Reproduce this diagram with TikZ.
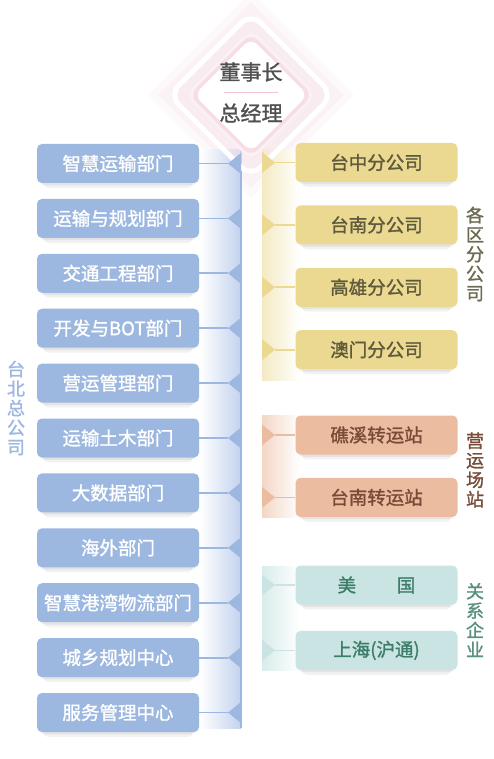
\documentclass[tikz,border=0pt]{standalone}
\usepackage{fontspec}
\setmainfont{Noto Sans CJK SC}[AutoFakeBold=1.3]
\usetikzlibrary{positioning,shapes.geometric,shadows}
\definecolor{deptblue}{HTML}{9DB8E0}
\definecolor{barblue}{HTML}{C3D2EE}
\definecolor{gold}{HTML}{EBD991}
\definecolor{goldtext}{HTML}{5F5A3C}
\definecolor{peach}{HTML}{ECBCA0}
\definecolor{peachtext}{HTML}{784B37}
\definecolor{mint}{HTML}{C9E4E2}
\definecolor{minttext}{HTML}{3C7D69}
\definecolor{dpink}{HTML}{EBB4C8}
\definecolor{headgray}{HTML}{505050}
\tikzset{
  box/.style={rounded corners=5pt, minimum width=162pt, minimum height=39pt, inner sep=0pt,
    font=\fontsize{18.5}{18.5}\selectfont\bfseries,
    drop shadow={shadow xshift=0pt, shadow yshift=-3pt, shadow scale=0.97, opacity=0.06, fill=black},
    drop shadow={shadow xshift=0pt, shadow yshift=-7pt, shadow scale=0.92, opacity=0.05, fill=black}},
  dept/.style={box, fill=deptblue, text=white},
  branch/.style={box, fill=gold, text=goldtext},
  depot/.style={box, fill=peach, text=peachtext},
  affil/.style={box, fill=mint, text=minttext},
  group/.style={font=\fontsize{18}{19.5}\selectfont\bfseries, align=center, inner sep=0pt},
  head/.style={font=\fontsize{21}{21}\selectfont\bfseries, text=headgray, inner sep=0pt},
  rhomb/.style={diamond, aspect=1, inner sep=0pt},
  blink/.style={draw=deptblue, line width=1.8pt},
  glink/.style={draw=gold, line width=1.8pt},
  plink/.style={draw=peach, line width=1.8pt},
  mlink/.style={draw=mint, line width=1.8pt}
}
\begin{document}
\begin{tikzpicture}[x=1pt, y=-1pt]
  \useasboundingbox[fill=white] (0,0) rectangle (493,759);
  % soft glow round the top
  \node[rhomb, minimum size=206pt, fill=dpink, fill opacity=0.07] (glow) at (251,95) {};
  \node[rhomb, minimum size=186pt, fill=dpink, fill opacity=0.09] (glow2) at (251,95) {};
  % bars
  \shade[left color=white, right color=barblue] (200,150) rectangle (241,728);
  \draw[deptblue, line width=1.5pt] (241,150) -- (241,728);
  \shade[left color=gold!55, right color=white] (262,150) rectangle (300,380);
  \shade[left color=peach!60, right color=white] (262,415) rectangle (300,517);
  \shade[left color=mint!70, right color=white] (262,566) rectangle (300,670);
  % top
  \node[rhomb, minimum size=166pt, rounded corners=14pt, draw=white, line width=5pt, fill=dpink!30, fill opacity=0.55] (frame) at (251,95) {};
  \node[rhomb, minimum size=132pt, rounded corners=12pt, fill=dpink!20] (halo) at (251,95) {};
  \node[rhomb, minimum size=124pt, rounded corners=10pt, fill=dpink!45] (halo2) at (251,95) {};
  \node[rhomb, minimum size=114pt, rounded corners=9pt, fill=white] (core) at (251,95) {};
  \node[head] (chair) at (251,72) {董事长};
  \node[head] (gm) at (251,113) {总经理};
  \draw[dpink!80, line width=1pt] (224,93) -- (278,93);

  % 台北总公司
  \node[dept] (d1) at (118,163.5) {智慧运输部门};
  \node[dept, below=15.5pt of d1] (d2) {运输与规划部门};
  \node[dept, below=15.5pt of d2] (d3) {交通工程部门};
  \node[dept, below=15.5pt of d3] (d4) {开发与BOT部门};
  \node[dept, below=15.5pt of d4] (d5) {营运管理部门};
  \node[dept, below=15.5pt of d5] (d6) {运输土木部门};
  \node[dept, below=15.5pt of d6] (d7) {大数据部门};
  \node[dept, below=15.5pt of d7] (d8) {海外部门};
  \node[dept, below=15.5pt of d8] (d9) {智慧港湾物流部门};
  \node[dept, below=15.5pt of d9] (d10) {城乡规划中心};
  \node[dept, below=15.5pt of d10] (d11) {服务管理中心};
  \node[group, text=deptblue] (hq) at (16,408) {台\\北\\总\\公\\司};

  % 各区分公司
  \node[branch] (c1) at (376.5,162.5) {台中分公司};
  \node[branch, below=23pt of c1] (c2) {台南分公司};
  \node[branch, below=23pt of c2] (c3) {高雄分公司};
  \node[branch, below=23pt of c3] (c4) {澳门分公司};
  \node[group, text=goldtext!90] (regions) at (475,254) {各\\区\\分\\公\\司};

  % 营运场站
  \node[depot] (s1) at (376.5,435) {礁溪转运站};
  \node[depot, below=23pt of s1] (s2) {台南转运站};
  \node[group, text=peachtext] (stations) at (475,470) {营\\运\\场\\站};

  % 关系企业
  \node[affil] (a1) at (376.5,585) {美\hspace{2.2em}国};
  \node[affil, below=26pt of a1] (a2) {上海(沪通)};
  \node[group, text=minttext!85] (related) at (475,620) {关\\系\\企\\业};

  % tips on the bars
  \coordinate (btip) at (228,0);
  \coordinate (rtip) at (275,0);
  \coordinate (b1) at (d1 -| btip);
  \coordinate (b2) at (d2 -| btip);
  \coordinate (b3) at (d3 -| btip);
  \coordinate (b4) at (d4 -| btip);
  \coordinate (b5) at (d5 -| btip);
  \coordinate (b6) at (d6 -| btip);
  \coordinate (b7) at (d7 -| btip);
  \coordinate (b8) at (d8 -| btip);
  \coordinate (b9) at (d9 -| btip);
  \coordinate (b10) at (d10 -| btip);
  \coordinate (b11) at (d11 -| btip);
  \coordinate (g1) at (c1 -| rtip);
  \coordinate (g2) at (c2 -| rtip);
  \coordinate (g3) at (c3 -| rtip);
  \coordinate (g4) at (c4 -| rtip);
  \coordinate (p1) at (s1 -| rtip);
  \coordinate (p2) at (s2 -| rtip);
  \coordinate (m1) at (a1 -| rtip);
  \coordinate (m2) at (a2 -| rtip);

  \fill[deptblue] (b1) -- ++(13,-10.5) -- ++(0,21) -- cycle;
  \fill[deptblue] (b2) -- ++(13,-10.5) -- ++(0,21) -- cycle;
  \fill[deptblue] (b3) -- ++(13,-10.5) -- ++(0,21) -- cycle;
  \fill[deptblue] (b4) -- ++(13,-10.5) -- ++(0,21) -- cycle;
  \fill[deptblue] (b5) -- ++(13,-10.5) -- ++(0,21) -- cycle;
  \fill[deptblue] (b6) -- ++(13,-10.5) -- ++(0,21) -- cycle;
  \fill[deptblue] (b7) -- ++(13,-10.5) -- ++(0,21) -- cycle;
  \fill[deptblue] (b8) -- ++(13,-10.5) -- ++(0,21) -- cycle;
  \fill[deptblue] (b9) -- ++(13,-10.5) -- ++(0,21) -- cycle;
  \fill[deptblue] (b10) -- ++(13,-10.5) -- ++(0,21) -- cycle;
  \fill[deptblue] (b11) -- ++(13,-10.5) -- ++(0,21) -- cycle;
  \fill[gold] (g1) -- ++(-13,-10.5) -- ++(0,21) -- cycle;
  \fill[gold] (g2) -- ++(-13,-10.5) -- ++(0,21) -- cycle;
  \fill[gold] (g3) -- ++(-13,-10.5) -- ++(0,21) -- cycle;
  \fill[gold] (g4) -- ++(-13,-10.5) -- ++(0,21) -- cycle;
  \fill[peach] (p1) -- ++(-13,-10.5) -- ++(0,21) -- cycle;
  \fill[peach] (p2) -- ++(-13,-10.5) -- ++(0,21) -- cycle;
  \fill[mint] (m1) -- ++(-13,-10.5) -- ++(0,21) -- cycle;
  \fill[mint] (m2) -- ++(-13,-10.5) -- ++(0,21) -- cycle;

  \draw[blink] (d1) -- (b1);
  \draw[blink] (d2) -- (b2);
  \draw[blink] (d3) -- (b3);
  \draw[blink] (d4) -- (b4);
  \draw[blink] (d5) -- (b5);
  \draw[blink] (d6) -- (b6);
  \draw[blink] (d7) -- (b7);
  \draw[blink] (d8) -- (b8);
  \draw[blink] (d9) -- (b9);
  \draw[blink] (d10) -- (b10);
  \draw[blink] (d11) -- (b11);
  \draw[glink] (g1) -- (c1);
  \draw[glink] (g2) -- (c2);
  \draw[glink] (g3) -- (c3);
  \draw[glink] (g4) -- (c4);
  \draw[plink] (p1) -- (s1);
  \draw[plink] (p2) -- (s2);
  \draw[mlink] (m1) -- (a1);
  \draw[mlink] (m2) -- (a2);
\end{tikzpicture}
\end{document}
